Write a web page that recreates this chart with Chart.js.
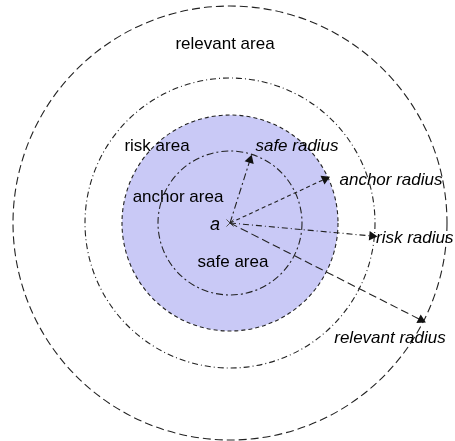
<!DOCTYPE html>
<html>
<head>
<meta charset="utf-8">
<script src="https://cdn.jsdelivr.net/npm/chart.js@4/dist/chart.umd.min.js"></script>
<style>
  html, body { margin: 0; padding: 0; background: #ffffff; }
  #wrap { width: 455px; height: 441px; }
</style>
</head>
<body>
<div id="wrap"><canvas id="zoneChart"></canvas></div>
<script>
// diagram units: same as picture pixels, origin top-left
const centerX = 230;
const centerY = 223;

const areaNames = ["safe area", "anchor area", "risk area", "relevant area"];
const areaRadii = [72, 108, 145, 217];

const radiusNames = ["safe radius", "anchor radius", "risk radius", "relevant radius"];
const radiusEndX = [250, 325, 372, 421];
const radiusEndY = [160, 179, 236, 320];

const centerName = "a";

const LINE = "#222222";
const FILL = "#c9c9f6";

// dash style for each ring / radius (safe, anchor, risk, relevant)
const DASHES = [
  [7, 3, 2, 3],
  [4, 3],
  [6, 3, 1, 3],
  [8, 4]
];

// where each text sits (diagram units)
const AREA_TEXT_POS = [
  { x: 233, y: 262, align: "center" },
  { x: 178, y: 197, align: "center" },
  { x: 157, y: 146, align: "center" },
  { x: 225, y: 44, align: "center" }
];
const RADIUS_TEXT_POS = [
  { x: 297, y: 146, align: "center" },
  { x: 391, y: 180, align: "center" },
  { x: 376, y: 238, align: "left" },
  { x: 390, y: 338, align: "center" }
];
const CENTER_TEXT_POS = { x: 215, y: 225 };

const FONT = "Liberation Sans, Arial, sans-serif";

function arrowRotation(i) {
  const dx = radiusEndX[i] - centerX;
  const dy = radiusEndY[i] - centerY;
  return Math.atan2(dx, -dy) * 180 / Math.PI;
}

const radiusDatasets = radiusNames.map(function (name, i) {
  return {
    type: "line",
    label: name,
    data: [{ x: centerX, y: centerY }, { x: radiusEndX[i], y: radiusEndY[i] }],
    borderColor: LINE,
    borderWidth: 1.1,
    borderDash: DASHES[i],
    backgroundColor: "#111111",
    pointRadius: [0, 5.5],
    pointStyle: "triangle",
    pointRotation: arrowRotation(i),
    pointBorderWidth: 0,
    fill: false
  };
});

const ringsPlugin = {
  id: "rings",
  beforeDatasetsDraw: function (chart) {
    const ctx = chart.ctx;
    const xs = chart.scales.x;
    const ys = chart.scales.y;
    const cx = xs.getPixelForValue(centerX);
    const cy = ys.getPixelForValue(centerY);

    ctx.save();
    // shaded anchor area
    const rAnchor = xs.getPixelForValue(centerX + areaRadii[1]) - cx;
    ctx.beginPath();
    ctx.arc(cx, cy, rAnchor, 0, Math.PI * 2);
    ctx.fillStyle = FILL;
    ctx.fill();

    areaRadii.forEach(function (r, i) {
      const rp = xs.getPixelForValue(centerX + r) - cx;
      ctx.beginPath();
      ctx.arc(cx, cy, rp, 0, Math.PI * 2);
      ctx.setLineDash(DASHES[i]);
      ctx.lineWidth = 1.1;
      ctx.strokeStyle = LINE;
      ctx.stroke();
    });
    ctx.restore();
  },
  afterDatasetsDraw: function (chart) {
    const ctx = chart.ctx;
    const xs = chart.scales.x;
    const ys = chart.scales.y;

    ctx.save();
    ctx.fillStyle = "#000000";
    ctx.textBaseline = "middle";

    ctx.font = "17px " + FONT;
    areaNames.forEach(function (name, i) {
      const p = AREA_TEXT_POS[i];
      ctx.textAlign = p.align;
      ctx.fillText(name, xs.getPixelForValue(p.x), ys.getPixelForValue(p.y));
    });

    ctx.font = "italic 17px " + FONT;
    radiusNames.forEach(function (name, i) {
      const p = RADIUS_TEXT_POS[i];
      ctx.textAlign = p.align;
      ctx.fillText(name, xs.getPixelForValue(p.x), ys.getPixelForValue(p.y));
    });

    ctx.font = "italic 18px " + FONT;
    ctx.textAlign = "center";
    ctx.fillText(centerName, xs.getPixelForValue(CENTER_TEXT_POS.x), ys.getPixelForValue(CENTER_TEXT_POS.y));
    ctx.restore();
  }
};

new Chart(document.getElementById("zoneChart"), {
  type: "scatter",
  data: {
    datasets: radiusDatasets.concat([{
      type: "scatter",
      label: "anchor point",
      data: [{ x: centerX, y: centerY }],
      pointStyle: "crossRot",
      pointRadius: 5,
      borderColor: "#555555",
      borderWidth: 1
    }])
  },
  options: {
    responsive: true,
    maintainAspectRatio: false,
    animation: false,
    events: [],
    layout: { padding: 0, autoPadding: false },
    plugins: {
      legend: { display: false },
      tooltip: { enabled: false }
    },
    scales: {
      x: { type: "linear", min: 0, max: 455, display: false },
      y: { type: "linear", min: 0, max: 441, reverse: true, display: false }
    }
  },
  plugins: [ringsPlugin]
});
</script>
</body>
</html>
